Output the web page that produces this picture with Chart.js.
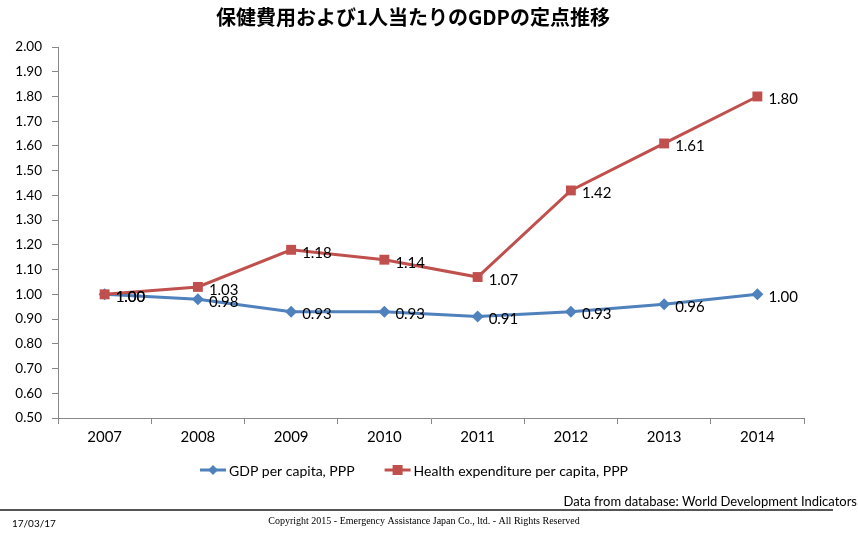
<!DOCTYPE html>
<html>
<head>
<meta charset="utf-8">
<script src="https://cdn.jsdelivr.net/npm/chart.js@4"></script>
<style>
  html, body { margin: 0; padding: 0; background: #fff; }
  #wrap { width: 858px; height: 533px; }
</style>
</head>
<body>
<div id="wrap"><canvas id="indexChart" width="858" height="533"></canvas></div>
<script>
// data
const years = ['2007', '2008', '2009', '2010', '2011', '2012', '2013', '2014'];
const gdpIndex = [1.00, 0.98, 0.93, 0.93, 0.91, 0.93, 0.96, 1.00];
const healthIndex = [1.00, 1.03, 1.18, 1.14, 1.07, 1.42, 1.61, 1.80];
const seriesNames = ['GDP per capita, PPP', 'Health expenditure per capita, PPP'];
const titleText = '保健費用および1人当たりのGDPの定点推移';
const sourceText = 'Data from database: World Development Indicators';
const copyrightText = 'Copyright 2015 - Emergency Assistance Japan Co., ltd. - All Rights Reserved';
const dateText = '17/03/17';

const blue = '#4F81BD';
const red = '#C0504D';
const sans = 'Lato, "Open Sans", sans-serif';

// value labels right of each point + title, legend and footer
const decorations = {
  id: 'decorations',
  afterDatasetsDraw(chart) {
    const ctx = chart.ctx;
    ctx.save();
    ctx.fillStyle = '#000';
    ctx.font = '15px ' + sans;
    ctx.textAlign = 'left';
    ctx.textBaseline = 'middle';
    chart.data.datasets.forEach((ds, i) => {
      const meta = chart.getDatasetMeta(i);
      meta.data.forEach((pt, j) => {
        ctx.fillText(ds.data[j].toFixed(2), pt.x + 11, pt.y + 3);
      });
    });
    ctx.restore();
  },
  afterDraw(chart) {
    const ctx = chart.ctx;
    ctx.save();
    // title
    ctx.fillStyle = '#000';
    ctx.font = 'bold 20px "Noto Sans CJK JP", sans-serif';
    ctx.textAlign = 'center';
    ctx.textBaseline = 'middle';
    ctx.fillText(titleText, 413, 17);

    // legend
    ctx.font = '14px ' + sans;
    const lineLen = 26, gap = 3, itemGap = 30;
    const widths = seriesNames.map(n => lineLen + gap + ctx.measureText(n).width);
    const total = widths[0] + widths[1] + itemGap;
    let x = 414 - total / 2;
    const ly = 470;
    chart.data.datasets.forEach((ds, i) => {
      ctx.strokeStyle = ds.borderColor;
      ctx.lineWidth = 3;
      ctx.beginPath();
      ctx.moveTo(x, ly);
      ctx.lineTo(x + lineLen, ly);
      ctx.stroke();
      ctx.fillStyle = ds.borderColor;
      const cx = x + lineLen / 2;
      ctx.beginPath();
      if (ds.pointStyle === 'rectRot') {
        ctx.moveTo(cx, ly - 5); ctx.lineTo(cx + 5, ly); ctx.lineTo(cx, ly + 5); ctx.lineTo(cx - 5, ly);
      } else {
        ctx.rect(cx - 5, ly - 5, 10, 10);
      }
      ctx.fill();
      ctx.fillStyle = '#000';
      ctx.textAlign = 'left';
      ctx.fillText(seriesNames[i], x + lineLen + gap, ly + 1);
      x += widths[i] + itemGap;
    });

    // footer
    ctx.textAlign = 'right';
    ctx.font = '13px ' + sans;
    ctx.fillText(sourceText, 857, 502);
    ctx.strokeStyle = '#555';
    ctx.lineWidth = 2;
    ctx.beginPath();
    ctx.moveTo(0, 510);
    ctx.lineTo(833, 510);
    ctx.stroke();
    ctx.textAlign = 'left';
    ctx.font = '10px ' + sans;
    ctx.fillText(dateText, 12, 524);
    ctx.textAlign = 'center';
    ctx.font = '10px "Liberation Serif", serif';
    ctx.fillText(copyrightText, 424, 521);
    ctx.restore();
  }
};

const ctx = document.getElementById('indexChart').getContext('2d');
const indexChart = new Chart(ctx, {
  type: 'line',
  data: {
    labels: years,
    datasets: [{
      label: seriesNames[0],
      data: gdpIndex,
      borderColor: blue,
      backgroundColor: blue,
      borderWidth: 3,
      pointStyle: 'rectRot',
      pointRadius: 6,
      pointBorderWidth: 0,
      tension: 0,
      order: 2
    }, {
      label: seriesNames[1],
      data: healthIndex,
      borderColor: red,
      backgroundColor: red,
      borderWidth: 3,
      pointStyle: 'rect',
      pointRadius: 7,
      pointBorderWidth: 0,
      tension: 0,
      order: 1
    }]
  },
  options: {
    responsive: false,
    animation: false,
    events: [],
    layout: { padding: { top: 47, right: 54, left: 0, bottom: 0 } },
    plugins: {
      legend: { display: false },
      title: { display: false },
      tooltip: { enabled: false }
    },
    scales: {
      x: {
        offset: true,
        afterFit: s => { s.height = 115; },
        grid: { offset: true, drawOnChartArea: false, drawTicks: true, tickLength: 6, color: '#888' },
        border: { color: '#888', width: 1 },
        ticks: { color: '#000', font: { family: sans, size: 15 }, padding: 4 }
      },
      y: {
        min: 0.5,
        max: 2.0,
        afterFit: s => { s.width = 58; },
        grid: { drawOnChartArea: false, drawTicks: true, tickLength: 6, color: '#888' },
        border: { color: '#888', width: 1 },
        ticks: {
          stepSize: 0.1,
          color: '#000',
          font: { family: sans, size: 13.5 },
          padding: 10,
          callback: v => v.toFixed(2)
        }
      }
    }
  },
  plugins: [decorations]
});
</script>
</body>
</html>
